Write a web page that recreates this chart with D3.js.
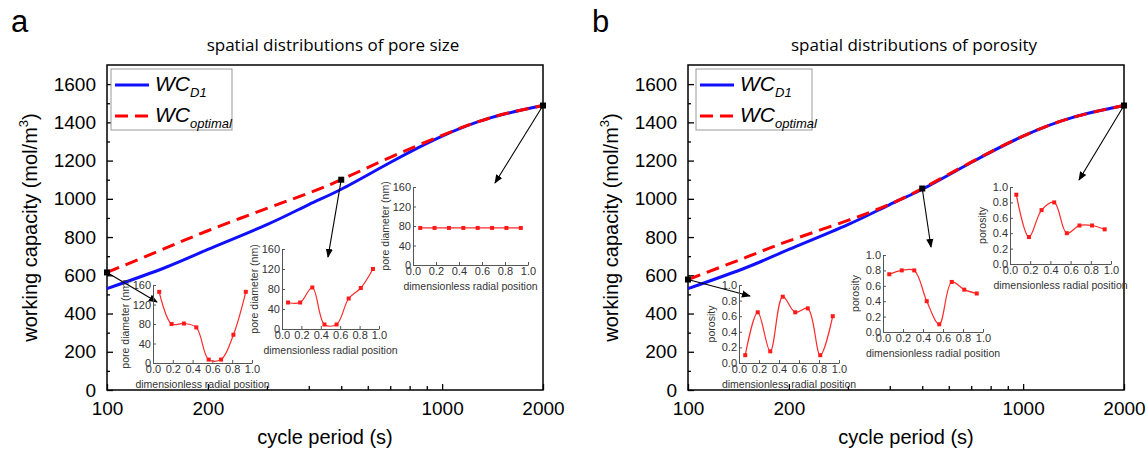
<!DOCTYPE html>
<html>
<head>
<meta charset="utf-8">
<script src="https://cdn.jsdelivr.net/npm/d3@7.9.0/dist/d3.min.js"></script>
<style>
  body { margin: 0; background: #fff; }
  text { font-family: "Liberation Sans", Arial, sans-serif; }
  text.title { font-family: "Open Sans", sans-serif; }
</style>
</head>
<body>
<svg id="chart" width="1148" height="451"></svg>
<script>
// main curves: working capacity vs cycle period
const periods = [100, 150, 200, 300, 400, 500, 700, 1000, 1400, 2000];
const wcD1 = [530, 642, 735, 865, 970, 1050, 1190, 1328, 1425, 1488];
const wcOptimalA = [615, 743, 833, 950, 1030, 1100, 1217, 1332, 1425, 1488];
const wcOptimalB = [578, 696, 780, 887, 972, 1054, 1192, 1328, 1425, 1488];
const markedPeriods = [100, 500, 2000];

const xTickValues = [100, 200, 1000, 2000];
const xMinorTicks = [300, 400, 500, 600, 700, 800, 900];
const yTickValues = [0, 200, 400, 600, 800, 1000, 1200, 1400, 1600];
const yMinorTicks = [100, 300, 500, 700, 900, 1100, 1300, 1500];

// insets: distribution along the radial position
const radialPos = [0.0625, 0.1875, 0.3125, 0.4375, 0.5625, 0.6875, 0.8125, 0.9375];
const pore100 = [146, 80, 81, 73, 7, 7, 58, 146];
const pore500 = [53, 53, 83, 9, 9, 61, 82, 120];
const pore2000 = [76, 76, 76, 76, 76, 76, 76, 76];
const poros100 = [0.1, 0.65, 0.15, 0.85, 0.65, 0.7, 0.1, 0.6];
const poros500 = [0.75, 0.8, 0.8, 0.4, 0.1, 0.65, 0.55, 0.5];
const poros2000 = [0.9, 0.35, 0.7, 0.8, 0.4, 0.5, 0.5, 0.45];
const poreTicks = [0, 40, 80, 120, 160];
const porosTicks = [0, 0.2, 0.4, 0.6, 0.8, 1.0];
const radialTicks = [0, 0.2, 0.4, 0.6, 0.8, 1.0];

const svg = d3.select('#chart');

svg.append('defs').append('marker')
  .attr('id', 'arrow')
  .attr('viewBox', '0 0 10 10')
  .attr('refX', 9).attr('refY', 5)
  .attr('markerWidth', 9).attr('markerHeight', 9)
  .attr('markerUnits', 'userSpaceOnUse')
  .attr('orient', 'auto')
  .append('path').attr('d', 'M0,1 L10,5 L0,9 Z').attr('fill', '#000');

function drawInset(box, values, yTicks, yFmt, yLabel) {
  const g = svg.append('g');
  const x = d3.scaleLinear().domain([0, 1]).range([box.x0, box.x1]);
  const y = d3.scaleLinear().domain([yTicks[0], yTicks[yTicks.length - 1]]).range([box.y1, box.y0]);

  const ax = g.append('g').attr('transform', `translate(0,${box.y1})`)
    .call(d3.axisBottom(x).tickValues(radialTicks).tickFormat(d3.format('.1f'))
      .tickSizeInner(-3).tickSizeOuter(0).tickPadding(2));
  const ay = g.append('g').attr('transform', `translate(${box.x0},0)`)
    .call(d3.axisLeft(y).tickValues(yTicks).tickFormat(yFmt)
      .tickSizeInner(-3).tickSizeOuter(0).tickPadding(2));
  [ax, ay].forEach(a => {
    a.selectAll('path').attr('stroke', '#555');
    a.selectAll('line').attr('stroke', '#555');
    a.selectAll('text').attr('font-size', 11).attr('fill', '#333')
      .style('font-family', '"Liberation Sans", Arial, sans-serif');
  });

  g.append('text')
    .attr('x', (box.x0 + box.x1) / 2).attr('y', box.y1 + 25)
    .attr('text-anchor', 'middle').attr('font-size', 10.5).attr('fill', '#333')
    .text('dimensionless radial position');
  g.append('text')
    .attr('transform', `translate(${box.x0 - 24},${(box.y0 + box.y1) / 2}) rotate(-90)`)
    .attr('text-anchor', 'middle').attr('font-size', 10.5).attr('fill', '#333')
    .text(yLabel);

  const pts = radialPos.map((r, i) => [r, values[i]]);
  g.append('path')
    .attr('d', d3.line().x(d => x(d[0])).y(d => y(d[1])).curve(d3.curveCatmullRom)(pts))
    .attr('fill', 'none').attr('stroke', '#ff2a2a').attr('stroke-width', 1.2);
  g.selectAll('rect.pt').data(pts).join('rect')
    .attr('x', d => x(d[0]) - 2).attr('y', d => y(d[1]) - 2)
    .attr('width', 4).attr('height', 4).attr('fill', '#ff1a1a');
}

function drawPanel(cfg) {
  const top = 65, bottom = 390;
  const x = d3.scaleLog().domain([100, 2000]).range([cfg.left, cfg.right]);
  const y = d3.scaleLinear().domain([0, 1700]).range([bottom, top]);
  const g = svg.append('g');

  // panel letter and title
  g.append('text').attr('x', cfg.left - 96).attr('y', 32)
    .attr('font-size', 31).text(cfg.letter);
  g.append('text').attr('class', 'title')
    .attr('x', (cfg.left + cfg.right) / 2 + 8).attr('y', 51)
    .attr('text-anchor', 'middle').attr('font-size', 17).text(cfg.title);

  // axes with inward ticks
  const yAx = g.append('g').attr('transform', `translate(${cfg.left},0)`)
    .call(d3.axisLeft(y).tickValues(yTickValues).tickFormat(d3.format('d'))
      .tickSizeInner(-6).tickSizeOuter(0).tickPadding(11));
  g.append('g').attr('transform', `translate(${cfg.left},0)`)
    .call(d3.axisLeft(y).tickValues(yMinorTicks).tickSizeInner(-3).tickSizeOuter(0).tickFormat(''));
  const xAx = g.append('g').attr('transform', `translate(0,${bottom})`)
    .call(d3.axisBottom(x).tickValues(xTickValues).tickFormat(d3.format('d'))
      .tickSizeInner(-6).tickSizeOuter(0).tickPadding(12));
  g.append('g').attr('transform', `translate(0,${bottom})`)
    .call(d3.axisBottom(x).tickValues(xMinorTicks).tickSizeInner(-4).tickSizeOuter(0).tickFormat(''));
  g.selectAll('.domain').remove();
  g.selectAll('.tick line').attr('stroke', '#000').attr('stroke-width', 1.3);
  [yAx, xAx].forEach(a => a.selectAll('text')
    .attr('font-size', 19).attr('fill', '#000').style('font-family', '"Liberation Sans", Arial, sans-serif'));

  g.append('rect')
    .attr('x', cfg.left).attr('y', top)
    .attr('width', cfg.right - cfg.left).attr('height', bottom - top)
    .attr('fill', 'none').attr('stroke', '#000').attr('stroke-width', 1.5);

  // axis titles
  g.append('text').attr('x', (cfg.left + cfg.right) / 2).attr('y', 444)
    .attr('text-anchor', 'middle').attr('font-size', 20).text('cycle period (s)');
  const yl = g.append('text')
    .attr('transform', `translate(${cfg.left - 70},${(top + bottom) / 2}) rotate(-90)`)
    .attr('text-anchor', 'middle').attr('font-size', 20);
  yl.append('tspan').text('working capacity (mol/m');
  yl.append('tspan').attr('dy', -9).attr('font-size', 13).text('3');
  yl.append('tspan').attr('dy', 9).text(')');

  // curves
  const line = d3.line().x(d => x(d[0])).y(d => y(d[1])).curve(d3.curveNatural);
  g.append('path')
    .attr('d', line(periods.map((p, i) => [p, wcD1[i]])))
    .attr('fill', 'none').attr('stroke', '#1010ff').attr('stroke-width', 3);
  g.append('path')
    .attr('d', line(periods.map((p, i) => [p, cfg.optimal[i]])))
    .attr('fill', 'none').attr('stroke', '#ff0000').attr('stroke-width', 3)
    .attr('stroke-dasharray', '13,7');

  // legend
  const lx = cfg.left + cfg.legendDx, ly = 69;
  g.append('rect').attr('x', lx).attr('y', ly).attr('width', cfg.legendW).attr('height', 61)
    .attr('fill', '#fff').attr('stroke', '#999').attr('stroke-width', 1);
  g.append('line').attr('x1', lx + 4).attr('x2', lx + 38).attr('y1', ly + 16).attr('y2', ly + 16)
    .attr('stroke', '#1010ff').attr('stroke-width', 3);
  g.append('line').attr('x1', lx + 4).attr('x2', lx + 38).attr('y1', ly + 47).attr('y2', ly + 47)
    .attr('stroke', '#ff0000').attr('stroke-width', 3).attr('stroke-dasharray', '13,7');
  [['D1', 22], ['optimal', 53]].forEach(([sub, by]) => {
    const t = g.append('text').attr('x', lx + 44).attr('y', ly + by)
      .attr('font-size', 21).attr('font-style', 'italic');
    t.append('tspan').text('WC');
    t.append('tspan').attr('dy', 6).attr('font-size', 13).text(sub);
  });

  // marked points and arrows to insets
  markedPeriods.forEach((p, i) => {
    const v = cfg.optimal[periods.indexOf(p)];
    const px = x(p), py = y(v);
    g.append('line').attr('x1', px).attr('y1', py)
      .attr('x2', cfg.arrowTo[i][0]).attr('y2', cfg.arrowTo[i][1])
      .attr('stroke', '#000').attr('stroke-width', 1.1).attr('marker-end', 'url(#arrow)');
    g.append('rect').attr('x', px - 3).attr('y', py - 3).attr('width', 6).attr('height', 6).attr('fill', '#000');
  });

  cfg.insets.forEach((box, i) => drawInset(box, cfg.insetData[i], cfg.insetTicks, cfg.insetFmt, cfg.insetLabel));
}

drawPanel({
  letter: 'a', title: 'spatial distributions of pore size',
  left: 107, right: 543, optimal: wcOptimalA, legendDx: 4, legendW: 121,
  arrowTo: [[157, 302], [328, 257], [495, 183]],
  insets: [
    { x0: 153, x1: 252, y0: 285, y1: 363 },
    { x0: 282, x1: 379, y0: 249, y1: 329 },
    { x0: 413, x1: 528, y0: 187, y1: 265 }
  ],
  insetData: [pore100, pore500, pore2000],
  insetTicks: poreTicks, insetFmt: d3.format('d'), insetLabel: 'pore diameter (nm)'
});

drawPanel({
  letter: 'b', title: 'spatial distributions of porosity',
  left: 688, right: 1124, optimal: wcOptimalB, legendDx: 8, legendW: 116,
  arrowTo: [[750, 296], [931, 247], [1079, 180]],
  insets: [
    { x0: 739, x1: 839, y0: 285, y1: 363 },
    { x0: 883, x1: 983, y0: 255, y1: 332 },
    { x0: 1010, x1: 1111, y0: 187, y1: 264 }
  ],
  insetData: [poros100, poros500, poros2000],
  insetTicks: porosTicks, insetFmt: d3.format('.1f'), insetLabel: 'porosity'
});
</script>
</body>
</html>
